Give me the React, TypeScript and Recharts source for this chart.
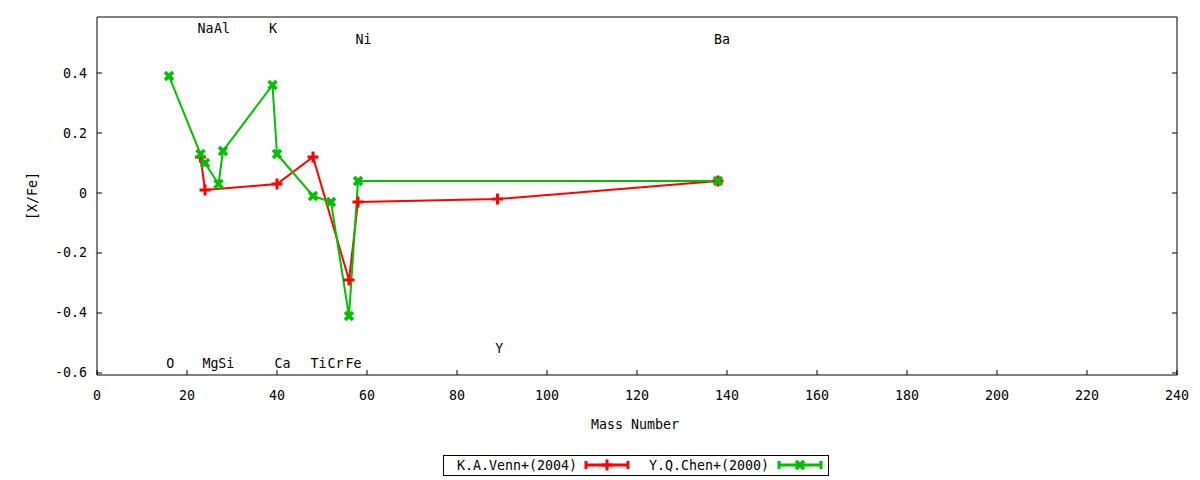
import React from 'react';
import { LineChart, Line, XAxis, YAxis, ReferenceDot } from 'recharts';

// [X/Fe] against mass number, two literature sources
const vennMass = [23, 24, 40, 48, 56, 58, 89, 138];
const vennXFe = [0.12, 0.01, 0.03, 0.12, -0.29, -0.03, -0.02, 0.04];
const chenMass = [16, 23, 24, 27, 28, 39, 40, 48, 52, 56, 58, 138];
const chenXFe = [0.39, 0.13, 0.1, 0.03, 0.14, 0.36, 0.13, -0.01, -0.03, -0.41, 0.04, 0.04];

const elementNames = ['O', 'Na', 'Mg', 'Al', 'Si', 'K', 'Ca', 'Ti', 'Cr', 'Fe', 'Ni', 'Y', 'Ba'];
const elementLabelX = [16.3, 24.1, 25.2, 27.8, 28.7, 39.1, 41.2, 49.2, 53.0, 57.0, 59.2, 89.4, 138.9];
const elementLabelY = [-0.567, 0.55, -0.567, 0.55, -0.567, 0.55, -0.567, -0.567, -0.567, -0.567, 0.513, -0.52, 0.513];

const xTicks = [0, 20, 40, 60, 80, 100, 120, 140, 160, 180, 200, 220, 240];
const yTicks = [-0.6, -0.4, -0.2, 0, 0.2, 0.4];
const seriesNames = ['K.A.Venn+(2004)', 'Y.Q.Chen+(2000)'];

const RED = '#ff0000';
const GREEN = '#00c000';
const FONT = '"DejaVu Sans Mono", monospace';
const FS = 13.3;

const vennData = vennMass.map((m, i) => ({ mass: m, xfe: vennXFe[i] }));
const chenData = chenMass.map((m, i) => ({ mass: m, xfe: chenXFe[i] }));

function PlusMark({ cx, cy, color }: any) {
  if (cx == null || cy == null) return null;
  return (
    <g>
      <rect x={cx - 5.5} y={cy - 1.5} width={11} height={3} fill={color} />
      <rect x={cx - 1.5} y={cy - 5.5} width={3} height={11} fill={color} />
    </g>
  );
}

function CrossMark({ cx, cy, color }: any) {
  if (cx == null || cy == null) return null;
  return (
    <g>
      <rect x={cx - 2.5} y={cy - 2.5} width={5} height={5} fill={color} />
      <path d={`M${cx - 4} ${cy - 4}L${cx + 4} ${cy + 4}M${cx - 4} ${cy + 4}L${cx + 4} ${cy - 4}`} stroke={color} strokeWidth={3.5} />
    </g>
  );
}

const BottomTick = ({ x, y, payload }: any) => (
  <g>
    <line x1={x} y1={y} x2={x} y2={y - 5} stroke="#000" />
    <text x={x} y={y + 20} textAnchor="middle" dominantBaseline="central" fontFamily={FONT} fontSize={FS} fill="#000">
      {payload.value}
    </text>
  </g>
);

const TopTick = ({ x, y }: any) => <line x1={x} y1={y} x2={x} y2={y + 5} stroke="#000" />;

const LeftTick = ({ x, y, payload }: any) => (
  <g>
    <line x1={x} y1={y} x2={x + 5} y2={y} stroke="#000" />
    <text x={x - 10} y={y} textAnchor="end" dominantBaseline="central" fontFamily={FONT} fontSize={FS} fill="#000">
      {String(payload.value)}
    </text>
  </g>
);

const RightTick = ({ x, y }: any) => <line x1={x} y1={y} x2={x - 5} y2={y} stroke="#000" />;

function LegendSample({ x1, x2, y, color, Mark }: any) {
  const mid = (x1 + x2) / 2;
  return (
    <g>
      <line x1={x1} y1={y} x2={x2} y2={y} stroke={color} strokeWidth={3} />
      <line x1={x1} y1={y - 4} x2={x1} y2={y + 4} stroke={color} strokeWidth={3} />
      <line x1={x2} y1={y - 4} x2={x2} y2={y + 4} stroke={color} strokeWidth={3} />
      <Mark cx={mid} cy={y} color={color} />
    </g>
  );
}

export default function App() {
  const yDomain = [-0.6067, 0.5867];
  return (
    <div style={{ position: 'absolute', left: 0, top: 0, width: 1200, height: 480, background: '#fff' }}>
      <LineChart width={1200} height={480} margin={{ top: 16, right: 22, left: 96, bottom: 104 }}>
        <XAxis
          dataKey="mass"
          type="number"
          domain={[0, 240]}
          ticks={xTicks}
          interval={0}
          height={1}
          tickSize={0}
          tickMargin={0}
          tickLine={false}
          axisLine={{ stroke: '#000' }}
          tick={<BottomTick />}
          allowDataOverflow
        />
        <XAxis
          xAxisId="top"
          orientation="top"
          type="number"
          domain={[0, 240]}
          ticks={xTicks}
          interval={0}
          height={1}
          tickSize={0}
          tickMargin={0}
          tickLine={false}
          axisLine={{ stroke: '#000' }}
          tick={<TopTick />}
          allowDataOverflow
        />
        <YAxis
          type="number"
          domain={yDomain}
          ticks={yTicks}
          interval={0}
          width={1}
          tickSize={0}
          tickMargin={0}
          tickLine={false}
          axisLine={{ stroke: '#000' }}
          tick={<LeftTick />}
          allowDataOverflow
        />
        <YAxis
          yAxisId="right"
          orientation="right"
          type="number"
          domain={yDomain}
          ticks={yTicks}
          interval={0}
          width={1}
          tickSize={0}
          tickMargin={0}
          tickLine={false}
          axisLine={{ stroke: '#000' }}
          tick={<RightTick />}
          allowDataOverflow
        />
        <Line
          data={vennData}
          dataKey="xfe"
          type="linear"
          stroke={RED}
          strokeWidth={2}
          dot={(p: any) => <PlusMark key={`v-${p.index}`} cx={p.cx} cy={p.cy} color={RED} />}
          activeDot={false}
          isAnimationActive={false}
        />
        <Line
          data={chenData}
          dataKey="xfe"
          type="linear"
          stroke={GREEN}
          strokeWidth={2}
          dot={(p: any) => <CrossMark key={`c-${p.index}`} cx={p.cx} cy={p.cy} color={GREEN} />}
          activeDot={false}
          isAnimationActive={false}
        />
        {elementNames.map((name, i) => (
          <ReferenceDot
            key={name}
            x={elementLabelX[i]}
            y={elementLabelY[i]}
            r={0}
            ifOverflow="visible"
            shape={(p: any) => (
              <text x={p.cx} y={p.cy} textAnchor="middle" dominantBaseline="central" fontFamily={FONT} fontSize={FS} fill="#000">
                {name}
              </text>
            )}
          />
        ))}
      </LineChart>
      <svg width={1200} height={480} style={{ position: 'absolute', left: 0, top: 0, pointerEvents: 'none' }}>
        <text x={635} y={424} textAnchor="middle" dominantBaseline="central" fontFamily={FONT} fontSize={FS} fill="#000">
          Mass Number
        </text>
        <text
          x={32}
          y={196}
          transform="rotate(-90 32 196)"
          textAnchor="middle"
          dominantBaseline="central"
          fontFamily={FONT}
          fontSize={FS}
          fill="#000"
        >
          [X/Fe]
        </text>
        <rect x={443.5} y={455.5} width={385} height={20} fill="none" stroke="#000" />
        <text x={457} y={465} dominantBaseline="central" fontFamily={FONT} fontSize={FS} fill="#000">
          {seriesNames[0]}
        </text>
        <LegendSample x1={586} x2={628} y={465} color={RED} Mark={PlusMark} />
        <text x={649} y={465} dominantBaseline="central" fontFamily={FONT} fontSize={FS} fill="#000">
          {seriesNames[1]}
        </text>
        <LegendSample x1={779} x2={821} y={465} color={GREEN} Mark={CrossMark} />
      </svg>
    </div>
  );
}
